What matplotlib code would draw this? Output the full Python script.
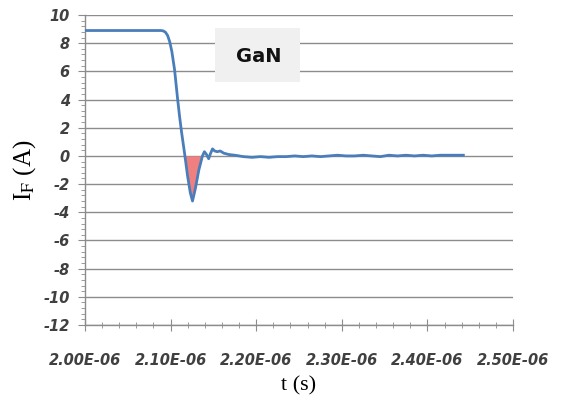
import matplotlib
matplotlib.use("Agg")
import matplotlib.pyplot as plt
import numpy as np
from matplotlib.ticker import MultipleLocator, FixedLocator
from matplotlib.patches import Rectangle

# time in microseconds, current in A
t_us = [2.000, 2.050, 2.089, 2.0915, 2.0940, 2.0965, 2.0990, 2.1015, 2.1047, 2.1081,
        2.1105, 2.1128, 2.1163, 2.1198, 2.1230, 2.1256, 2.1290, 2.1330, 2.1372,
        2.1395, 2.1420, 2.1445, 2.1465, 2.1490, 2.1515, 2.1545, 2.1580, 2.1620,
        2.1680, 2.1750, 2.1850, 2.1950, 2.2050, 2.2150, 2.2250, 2.2350, 2.2450,
        2.2550, 2.2650, 2.2750, 2.2850, 2.2950, 2.3050, 2.3150, 2.3250, 2.3350,
        2.3450, 2.3550, 2.3650, 2.3750, 2.3850, 2.3950, 2.4050, 2.4150, 2.4250,
        2.4350, 2.4420]
i_a = [8.9, 8.9, 8.9, 8.87, 8.78, 8.55, 8.1, 7.4, 6.1, 4.1,
       2.8, 1.7, 0.2, -1.4, -2.6, -3.2, -2.3, -1.0, 0.0,
       0.3, 0.1, -0.2, 0.15, 0.5, 0.35, 0.3, 0.35, 0.2,
       0.1, 0.05, -0.05, -0.1, -0.05, -0.1, -0.05, -0.05, 0.0,
       -0.05, 0.0, -0.05, 0.0, 0.05, 0.0, 0.0, 0.05, 0.0,
       -0.05, 0.05, 0.0, 0.05, 0.0, 0.05, 0.0, 0.05, 0.05,
       0.05, 0.05]

x_ticks_us = [2.00, 2.10, 2.20, 2.30, 2.40, 2.50]
x_tick_labels = ["2.00E-06", "2.10E-06", "2.20E-06", "2.30E-06", "2.40E-06", "2.50E-06"]
y_ticks = list(range(-12, 11, 2))

t = np.array(t_us) * 1e-6
i = np.array(i_a)

plt.rcParams['mathtext.fontset'] = 'stix'
plt.rcParams['axes.unicode_minus'] = False
fig = plt.figure(figsize=(5.65, 4.08), dpi=100)
ax = fig.add_axes([0.1504, 0.2034, 0.908 - 0.1504, 0.9632 - 0.2034])

line_col = "#4a7ebb"
mask = (i <= 0) & (t < 2.14e-6)
ax.fill_between(t, i, 0, where=mask, interpolate=True, color="#f08080", zorder=2, linewidth=0)
ax.plot(t, i, color=line_col, lw=2, zorder=3)

ax.set_xlim(2.0e-6, 2.5e-6)
ax.set_ylim(-12, 10)
ax.xaxis.set_major_locator(FixedLocator(np.array(x_ticks_us) * 1e-6))
ax.set_xticklabels(x_tick_labels)
ax.xaxis.set_minor_locator(MultipleLocator(0.02e-6))
ax.set_yticks(y_ticks)
ax.yaxis.set_minor_locator(MultipleLocator(0.4))

ax.grid(axis='y', which='major', color='#8c8c8c', lw=1, zorder=0)
for s in ['top', 'right']:
    ax.spines[s].set_visible(False)
for s in ['left', 'bottom']:
    ax.spines[s].set_color('#8c8c8c')
    ax.spines[s].set_linewidth(1)

ax.tick_params(axis='x', which='major', direction='inout', length=8, color='#8c8c8c', pad=16)
ax.tick_params(axis='x', which='minor', direction='inout', length=4, color='#8c8c8c')
ax.tick_params(axis='y', which='major', direction='out', length=5, color='#8c8c8c', pad=6)
ax.tick_params(axis='y', which='minor', direction='out', length=3, color='#8c8c8c')
for lab in ax.get_xticklabels() + ax.get_yticklabels():
    lab.set_fontweight('bold')
    lab.set_fontstyle('italic')
    lab.set_color('#404040')
    lab.set_fontsize(10.5)

ax.set_ylabel(r'I$_{\mathrm{F}}$ (A)', fontfamily='Liberation Serif', fontsize=18, labelpad=4)
ax.set_xlabel('t (s)', fontfamily='Liberation Serif', fontsize=16, labelpad=6)

ax.add_patch(Rectangle((0.304, 0.785), 0.199, 0.174, transform=ax.transAxes,
                       facecolor='#f0f0f0', edgecolor='none', zorder=4))
ax.text(0.405, 0.865, "GaN", transform=ax.transAxes, ha='center', va='center',
        fontsize=14, fontweight='bold', color='#111111', zorder=5)

fig.savefig("out.png", dpi=100)
